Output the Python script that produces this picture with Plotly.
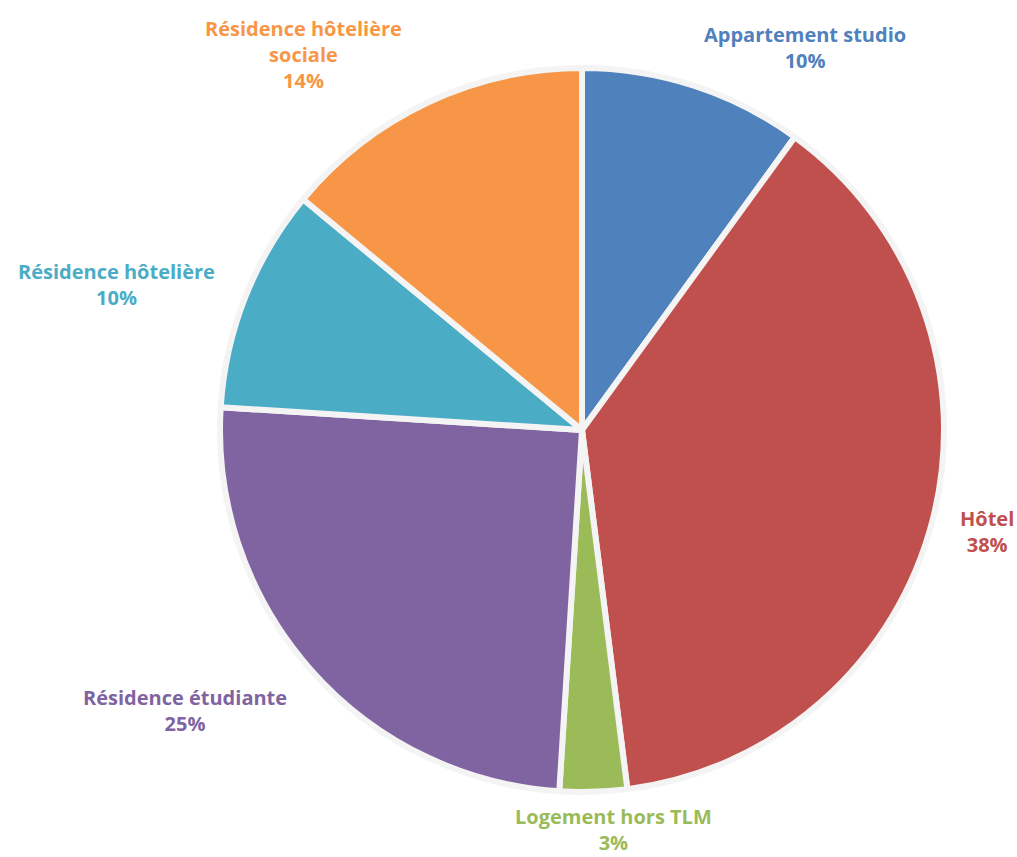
import plotly.graph_objects as go

categories = ["Appartement studio", "Hôtel", "Logement hors TLM",
              "Résidence étudiante", "Résidence hôtelière", "Résidence hôtelière sociale"]
values = [10, 38, 3, 25, 10, 14]
label_text = ["Appartement studio", "Hôtel", "Logement hors TLM",
              "Résidence étudiante", "Résidence hôtelière", "Résidence hôtelière<br>sociale"]
colors = ["#4F81BD", "#C0504D", "#9BBB59", "#8064A2", "#4BACC6", "#F79646"]

W, H = 1017, 857
cx, cy, r = 582, 430, 362

fig = go.Figure(go.Pie(
    labels=categories, values=values, sort=False, direction="clockwise", rotation=0,
    marker=dict(colors=colors, line=dict(color="#f4f4f4", width=6)),
    textinfo="none", hoverinfo="label+percent", showlegend=False,
    domain=dict(x=[(cx - r) / W, (cx + r) / W], y=[(H - cy - r) / H, (H - cy + r) / H]),
))

# label anchor positions (pixel centers of top text line), style only
label_pos = [(805, 33), (987, 517), (613, None), (185, 696), (116, 270), (303, 27)]

total = sum(values)
for name, v, col, (lx, ly) in zip(label_text, values, colors, label_pos):
    pct = round(100 * v / total)
    if ly is None:
        yv, ya = 0.0, "bottom"
    else:
        yv, ya = 1 - (ly - 13) / H, "top"
    fig.add_annotation(
        x=lx / W, y=yv, xref="paper", yref="paper",
        xanchor="center", yanchor=ya, showarrow=False, align="center",
        text=f"<b>{name}<br>{pct}%</b>", borderpad=0,
        font=dict(family="Open Sans, sans-serif", size=20, color=col),
    )

fig.update_layout(width=W, height=H, margin=dict(l=0, r=0, t=0, b=0),
                  paper_bgcolor="white", plot_bgcolor="white")
fig.write_html("out.html")
